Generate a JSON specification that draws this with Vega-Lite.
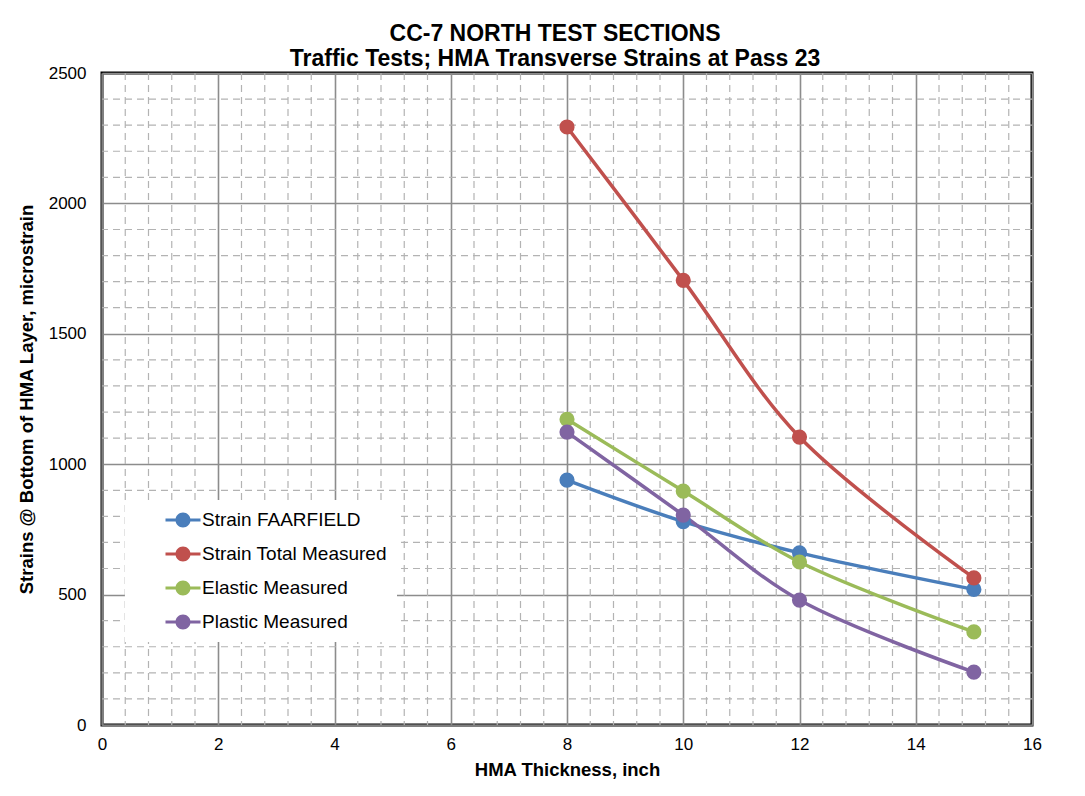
{
  "$schema": "https://vega.github.io/schema/vega-lite/v6.json",
  "width": 930,
  "height": 652,
  "autosize": "none",
  "padding": {"left": 102, "top": 73, "right": 53, "bottom": 71},
  "background": "white",
  "config": {
    "font": "Liberation Sans",
    "view": {"stroke": "black", "strokeWidth": 3}
  },
  "title": {
    "text": ["CC-7 NORTH TEST SECTIONS", "Traffic Tests; HMA Transverse Strains at Pass 23"],
    "fontSize": 23,
    "fontWeight": "bold",
    "font": "Liberation Sans",
    "color": "black",
    "anchor": "middle",
    "dx": -12,
    "dy": 13,
    "lineHeight": 25,
    "offset": 6
  },
  "datasets": {
    "main": [
      {"thickness": 8, "strain": 939, "series": "Strain FAARFIELD"},
      {"thickness": 10, "strain": 780, "series": "Strain FAARFIELD"},
      {"thickness": 12, "strain": 660, "series": "Strain FAARFIELD"},
      {"thickness": 15, "strain": 520, "series": "Strain FAARFIELD"},
      {"thickness": 8, "strain": 2293, "series": "Strain Total Measured"},
      {"thickness": 10, "strain": 1705, "series": "Strain Total Measured"},
      {"thickness": 12, "strain": 1104, "series": "Strain Total Measured"},
      {"thickness": 15, "strain": 564, "series": "Strain Total Measured"},
      {"thickness": 8, "strain": 1172, "series": "Elastic Measured"},
      {"thickness": 10, "strain": 897, "series": "Elastic Measured"},
      {"thickness": 12, "strain": 625, "series": "Elastic Measured"},
      {"thickness": 15, "strain": 357, "series": "Elastic Measured"},
      {"thickness": 8, "strain": 1123, "series": "Plastic Measured"},
      {"thickness": 10, "strain": 805, "series": "Plastic Measured"},
      {"thickness": 12, "strain": 479, "series": "Plastic Measured"},
      {"thickness": 15, "strain": 203, "series": "Plastic Measured"}
    ],
    "xminor": [
      {"v": 0.4}, {"v": 0.8}, {"v": 1.2}, {"v": 1.6},
      {"v": 2.4}, {"v": 2.8}, {"v": 3.2}, {"v": 3.6},
      {"v": 4.4}, {"v": 4.8}, {"v": 5.2}, {"v": 5.6},
      {"v": 6.4}, {"v": 6.8}, {"v": 7.2}, {"v": 7.6},
      {"v": 8.4}, {"v": 8.8}, {"v": 9.2}, {"v": 9.6},
      {"v": 10.4}, {"v": 10.8}, {"v": 11.2}, {"v": 11.6},
      {"v": 12.4}, {"v": 12.8}, {"v": 13.2}, {"v": 13.6},
      {"v": 14.4}, {"v": 14.8}, {"v": 15.2}, {"v": 15.6}
    ],
    "yminor": [
      {"v": 100}, {"v": 200}, {"v": 300}, {"v": 400},
      {"v": 600}, {"v": 700}, {"v": 800}, {"v": 900},
      {"v": 1100}, {"v": 1200}, {"v": 1300}, {"v": 1400},
      {"v": 1600}, {"v": 1700}, {"v": 1800}, {"v": 1900},
      {"v": 2100}, {"v": 2200}, {"v": 2300}, {"v": 2400}
    ]
  },
  "layer": [
    {
      "data": {"name": "xminor"},
      "mark": {"type": "rule", "color": "#b3b3b3", "strokeWidth": 1.2, "strokeDash": [7, 5]},
      "encoding": {
        "x": {"field": "v", "type": "quantitative", "scale": {"domain": [0, 16], "nice": false}}
      }
    },
    {
      "data": {"name": "yminor"},
      "mark": {"type": "rule", "color": "#b3b3b3", "strokeWidth": 1.2, "strokeDash": [7, 5]},
      "encoding": {
        "y": {"field": "v", "type": "quantitative", "scale": {"domain": [0, 2500], "nice": false}}
      }
    },
    {
      "data": {"name": "main"},
      "mark": {
        "type": "line",
        "interpolate": "catmull-rom",
        "strokeWidth": 3.5,
        "point": {"size": 230, "filled": true, "opacity": 1}
      },
      "encoding": {
        "x": {
          "field": "thickness",
          "type": "quantitative",
          "scale": {"domain": [0, 16], "nice": false},
          "axis": {
            "title": "HMA Thickness, inch",
            "values": [0, 2, 4, 6, 8, 10, 12, 14, 16],
            "format": "d",
            "grid": true,
            "gridColor": "#8c8c8c",
            "gridWidth": 1.6,
            "gridOpacity": 1,
            "ticks": false,
            "domainColor": "#7f7f7f",
            "domainWidth": 2,
            "labelFontSize": 17,
            "labelColor": "black",
            "labelPadding": 11,
            "labelFlush": false,
            "titleFontSize": 18.5,
            "titleFontWeight": "bold",
            "titleColor": "black",
            "titlePadding": 8
          }
        },
        "y": {
          "field": "strain",
          "type": "quantitative",
          "scale": {"domain": [0, 2500], "nice": false},
          "axis": {
            "title": "Strains @ Bottom of HMA Layer, microstrain",
            "values": [0, 500, 1000, 1500, 2000, 2500],
            "format": "d",
            "grid": true,
            "gridColor": "#8c8c8c",
            "gridWidth": 1.6,
            "gridOpacity": 1,
            "ticks": false,
            "domainColor": "#7f7f7f",
            "domainWidth": 2,
            "labelFontSize": 17,
            "labelColor": "black",
            "labelPadding": 16,
            "labelFlush": false,
            "titleFontSize": 18.5,
            "titleFontWeight": "bold",
            "titleColor": "black",
            "titlePadding": 12
          }
        },
        "color": {
          "field": "series",
          "type": "nominal",
          "scale": {
            "domain": ["Strain FAARFIELD", "Strain Total Measured", "Elastic Measured", "Plastic Measured"],
            "range": ["#4a7ebb", "#c0504d", "#9bbb59", "#8064a2"]
          },
          "legend": {
            "title": null,
            "orient": "none",
            "legendX": 23,
            "legendY": 427,
            "fillColor": "white",
            "strokeColor": null,
            "padding": 10,
            "labelFontSize": 19,
            "labelColor": "black",
            "labelLimit": 500,
            "labelExpr": "datum.label + '\u00a0\u00a0\u00a0\u00a0\u00a0\u00a0'",
            "rowPadding": 14,
            "symbolType": "M-1.75,-0.16L-0.36,-0.16L-0.36,0.16L-1.75,0.16Z M0.36,-0.16L1.75,-0.16L1.75,0.16L0.36,0.16Z M0.75,0A0.75,0.75 0 1,1 -0.75,0A0.75,0.75 0 1,1 0.75,0Z",
            "symbolSize": 400,
            "symbolStrokeWidth": 0,
            "symbolOpacity": 1,
            "symbolOffset": 38,
            "labelOffset": 9,
            "offset": 0
          }
        }
      }
    }
  ]
}
